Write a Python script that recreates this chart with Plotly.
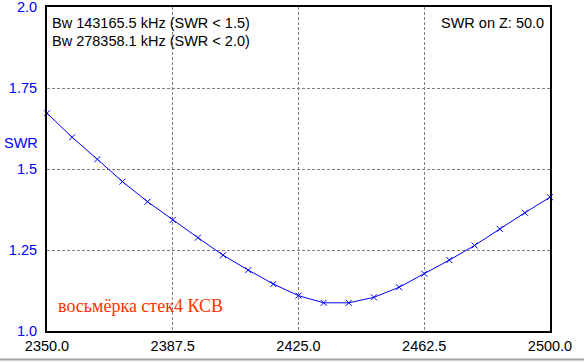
import plotly.graph_objects as go

freq_mhz = [2350.0, 2357.5, 2365.0, 2372.5, 2380.0, 2387.5, 2395.0, 2402.5, 2410.0, 2417.5,
            2425.0, 2432.5, 2440.0, 2447.5, 2455.0, 2462.5, 2470.0, 2477.5, 2485.0, 2492.5, 2500.0]
swr = [1.672, 1.598, 1.530, 1.461, 1.399, 1.343, 1.288, 1.234, 1.188, 1.145,
       1.109, 1.087, 1.087, 1.104, 1.135, 1.177, 1.219, 1.264, 1.315, 1.365, 1.413]

x_ticks = [2350.0, 2387.5, 2425.0, 2462.5, 2500.0]
x_tick_labels = ["2350.0", "2387.5", "2425.0", "2462.5", "2500.0"]
y_ticks = [1.0, 1.25, 1.5, 1.75, 2.0]
y_tick_labels = ["1.0", "1.25", "1.5", "1.75", "2.0"]

bw_lines = ["Bw 143165.5 kHz (SWR < 1.5)", "Bw 278358.1 kHz (SWR < 2.0)"]
z_text = "SWR on Z: 50.0"
title_text = "восьмёрка стек4 КСВ"

W, H = 584, 362
L, R, T, B = 47, 34, 7, 31
ph = H - T - B
pw = W - L - R

fig = go.Figure()
fig.add_trace(go.Scatter(
    x=freq_mhz, y=swr, mode="lines+markers",
    line=dict(color="#0000ff", width=1),
    marker=dict(symbol="x-thin", size=6, line=dict(color="#0000ff", width=1), color="#0000ff"),
    cliponaxis=False, showlegend=False, hoverinfo="x+y",
))

font = "Liberation Sans, Arial, sans-serif"
fs = 14.5
annotations = [
    dict(text=bw_lines[0], xref="paper", yref="paper", x=3 / pw, y=1 - 16 / ph,
         xanchor="left", yanchor="middle", showarrow=False, font=dict(family=font, size=fs, color="black")),
    dict(text=bw_lines[1], xref="paper", yref="paper", x=3 / pw, y=1 - 34 / ph,
         xanchor="left", yanchor="middle", showarrow=False, font=dict(family=font, size=fs, color="black")),
    dict(text=z_text, xref="paper", yref="paper", x=1 - 4 / pw, y=1 - 16 / ph,
         xanchor="right", yanchor="middle", showarrow=False, font=dict(family=font, size=fs, color="black")),
    dict(text="SWR", xref="paper", yref="paper", x=-45 / pw, y=1 - 136 / ph,
         xanchor="left", yanchor="middle", showarrow=False, font=dict(family=font, size=fs, color="#0000ff")),
    dict(text=title_text, xref="paper", yref="paper", x=9 / pw, y=1 - 299 / ph,
         xanchor="left", yanchor="middle", showarrow=False,
         font=dict(family="Liberation Serif, Times New Roman, serif", size=18, color="#ff3300")),
]

fig.update_layout(
    width=W, height=H, margin=dict(l=L, r=R, t=T, b=B, pad=0),
    paper_bgcolor="white", plot_bgcolor="white",
    font=dict(family=font, size=fs, color="black"),
    annotations=annotations,
    shapes=[dict(type="line", xref="paper", yref="paper", x0=-L / pw, x1=(pw + R) / pw,
                 y0=-28.5 / ph, y1=-28.5 / ph, line=dict(color="#a0a0a0", width=2))],
    xaxis=dict(range=[2350, 2500], tickvals=x_ticks, ticktext=x_tick_labels, automargin=False,
               showgrid=True, gridcolor="#808080", griddash="3px,2px", gridwidth=1,
               showline=True, linecolor="black", linewidth=2, mirror=True, ticklabeloverflow="allow",
               ticks="", zeroline=False, tickfont=dict(color="black", size=fs), ticklabelstandoff=1),
    yaxis=dict(range=[1.0, 2.0], tickvals=y_ticks, ticktext=y_tick_labels, automargin=False,
               showgrid=True, gridcolor="#808080", griddash="3px,2px", gridwidth=1,
               showline=True, linecolor="black", linewidth=2, mirror=True, ticklabeloverflow="allow",
               ticks="", zeroline=False, tickfont=dict(color="#0000ff", size=fs), ticklabelstandoff=5),
)

fig.write_html("out.html", config={"displayModeBar": False},
               post_script="document.body.style.margin='0px';document.body.style.overflow='hidden';")
